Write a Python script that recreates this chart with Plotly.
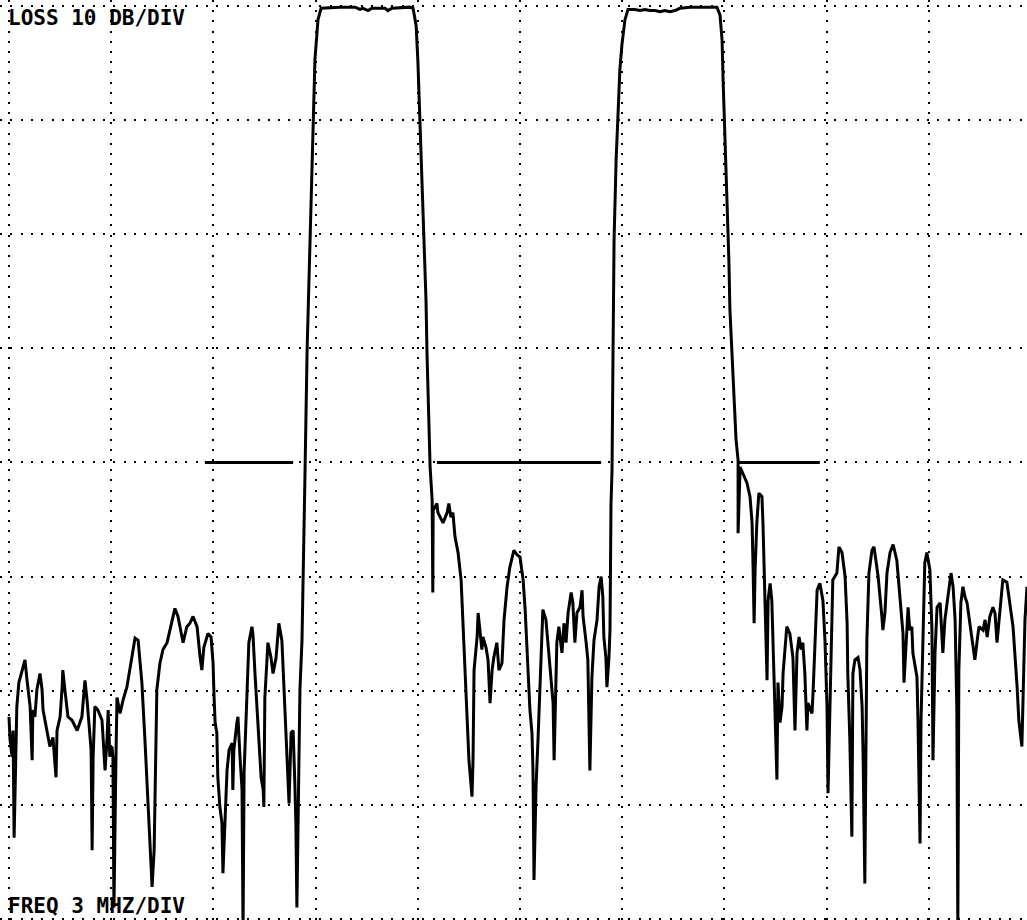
import plotly.graph_objects as go

# Swept transmission loss of a dual-passband filter, 3 MHz/div by 10 dB/div.
# Frequency is measured in MHz from the left edge of the graticule.

# lower stopband and first passband rising edge
f_low = [0.00, 0.03, 0.09, 0.12, 0.15, 0.21, 0.23, 0.29, 0.38, 0.47,
         0.53, 0.62, 0.68, 0.70, 0.76, 0.82, 0.91, 0.97, 1.00, 1.12,
         1.20, 1.29, 1.38, 1.41, 1.50, 1.56, 1.58, 1.64, 1.73, 1.85,
         2.00, 2.14, 2.23, 2.29, 2.35, 2.41, 2.44, 2.47, 2.52, 2.61,
         2.73, 2.82, 2.88, 2.91, 2.96, 3.02, 3.05, 3.08, 3.14, 3.17,
         3.26, 3.35, 3.46, 3.61, 3.70, 3.79, 3.90, 3.99, 4.08, 4.14,
         4.20, 4.26, 4.31, 4.34, 4.43, 4.52, 4.64, 4.78, 4.87, 4.96,
         5.11, 5.22, 5.31, 5.40, 5.52, 5.61, 5.66, 5.72, 5.84, 5.93,
         5.99, 6.02, 6.05, 6.10, 6.13, 6.19, 6.25, 6.28, 6.31, 6.37,
         6.40, 6.46, 6.55, 6.57, 6.60, 6.69, 6.72, 6.78, 6.84, 6.87,
         6.90, 6.99, 7.04, 7.13, 7.16, 7.22, 7.31, 7.40, 7.46, 7.48,
         7.51, 7.57, 7.60, 7.69, 7.75, 7.84, 7.90, 7.92, 8.01, 8.07,
         8.16, 8.22, 8.28, 8.34, 8.39, 8.42, 8.45, 8.48, 8.54, 8.60,
         8.63, 8.69, 8.75, 8.83, 8.92, 8.98, 9.07, 9.16]
db_low = [62.3, 64.3, 65.8, 63.5, 72.9, 66.1, 61.4, 59.3, 58.2, 57.3,
          59.1, 61.4, 66.1, 61.7, 62.3, 59.9, 58.5, 59.9, 61.7, 63.5,
          64.9, 64.1, 67.6, 63.5, 62.3, 59.7, 58.2, 59.9, 62.3, 62.6,
          63.5, 62.3, 59.1, 60.8, 62.8, 65.2, 74.0, 65.8, 61.4, 61.7,
          62.6, 67.0, 64.1, 61.7, 65.8, 64.9, 65.8, 79.0, 65.8, 60.6,
          62.0, 60.8, 59.7, 57.1, 55.4, 55.6, 59.3, 64.3, 70.2, 74.6,
          77.2, 74.0, 65.8, 59.9, 57.6, 56.4, 55.8, 54.1, 52.8, 53.5,
          55.8, 54.4, 54.1, 53.5, 54.4, 57.1, 58.2, 56.2, 55.0, 55.3,
          57.6, 60.6, 62.8, 63.7, 67.6, 70.2, 71.6, 76.0, 73.4, 68.7,
          67.0, 65.2, 64.6, 68.7, 65.2, 62.8, 62.3, 65.8, 68.7, 81.0,
          67.2, 59.9, 55.8, 54.4, 55.0, 58.5, 62.8, 67.6, 68.7, 70.2,
          60.6, 57.1, 55.8, 57.1, 58.5, 57.1, 54.4, 54.1, 55.6, 59.9,
          65.2, 69.9, 63.7, 63.5, 68.1, 71.6, 79.0, 71.6, 59.9, 55.6,
          51.2, 40.7, 30.1, 20.5, 10.0, 4.7, 1.2, 0.2]

# first passband top
f_pass1 = [9.71, 10.16, 10.30, 10.39, 10.54, 10.65, 11.04, 11.12, 11.24, 11.77, 11.86]
db_pass1 = [0.1, 0.1, 0.3, 0.2, 0.4, 0.2, 0.2, 0.4, 0.2, 0.1, 0.2]

# first passband falling edge, middle stopband, second passband rising edge
f_mid = [11.95, 12.00, 12.06, 12.12, 12.18, 12.24, 12.27, 12.33, 12.36, 12.42,
         12.44, 12.45, 12.56, 12.59, 12.74, 12.86, 12.91, 12.97, 13.03, 13.09,
         13.18, 13.27, 13.32, 13.38, 13.44, 13.50, 13.59, 13.62, 13.65, 13.74,
         13.77, 13.82, 13.88, 13.91, 14.00, 14.06, 14.12, 14.18, 14.23, 14.32,
         14.38, 14.47, 14.53, 14.62, 14.70, 14.82, 14.91, 15.00, 15.09, 15.15,
         15.20, 15.23, 15.29, 15.35, 15.38, 15.41, 15.47, 15.53, 15.61, 15.67,
         15.76, 15.82, 15.91, 15.97, 16.00, 16.03, 16.08, 16.14, 16.23, 16.29,
         16.35, 16.41, 16.50, 16.55, 16.61, 16.67, 16.76, 16.82, 16.85, 16.94,
         16.99, 17.05, 17.11, 17.17, 17.26, 17.32, 17.38, 17.43, 17.46, 17.52,
         17.55, 17.61, 17.64, 17.67, 17.70, 17.73, 17.76, 17.82, 17.87, 17.93,
         17.99, 18.08, 18.17]
db_mid = [1.7, 4.7, 10.0, 15.2, 20.5, 25.8, 30.5, 36.3, 40.4, 43.3,
          51.4, 44.2, 43.6, 44.4, 45.3, 44.4, 43.6, 44.8, 44.4, 46.5,
          47.9, 50.3, 53.8, 57.9, 61.1, 66.1, 69.3, 66.1, 58.2, 55.3,
          53.2, 55.0, 56.4, 55.3, 56.2, 57.3, 61.1, 58.2, 57.1, 55.8,
          58.2, 57.6, 53.8, 50.9, 49.2, 47.7, 48.1, 48.3, 50.3, 52.9,
          55.8, 58.2, 61.7, 63.7, 67.0, 76.6, 68.4, 64.1, 58.2, 52.9,
          53.8, 55.8, 58.8, 61.1, 66.1, 61.1, 55.8, 54.4, 56.7, 54.1,
          55.8, 53.2, 51.4, 52.3, 55.8, 53.2, 52.7, 51.2, 53.5, 55.8,
          57.3, 67.0, 58.8, 55.6, 53.8, 50.9, 50.0, 51.8, 55.3, 57.1,
          59.7, 57.1, 54.7, 43.6, 40.7, 30.1, 20.5, 13.5, 9.1, 5.6,
          3.4, 1.2, 0.3]

# second passband top
f_pass2 = [18.37, 18.52, 18.67, 18.81, 18.96, 19.11, 19.25, 19.40, 19.55, 19.69,
           19.99, 20.28, 20.78]
db_pass2 = [0.3, 0.4, 0.3, 0.4, 0.4, 0.5, 0.4, 0.5, 0.4, 0.2,
            0.1, 0.1, 0.1]

# second passband falling edge and upper stopband
f_high = [20.87, 20.93, 20.96, 21.01, 21.07, 21.13, 21.16, 21.22, 21.28, 21.34,
          21.40, 21.40, 21.46, 21.54, 21.66, 21.75, 21.81, 21.84, 21.87, 21.90,
          21.95, 22.01, 22.10, 22.13, 22.19, 22.25, 22.28, 22.34, 22.39, 22.42,
          22.48, 22.54, 22.57, 22.63, 22.69, 22.72, 22.83, 22.92, 23.01, 23.07,
          23.13, 23.19, 23.25, 23.30, 23.36, 23.42, 23.45, 23.57, 23.60, 23.66,
          23.72, 23.80, 23.89, 23.95, 24.01, 24.04, 24.10, 24.16, 24.18, 24.30,
          24.36, 24.45, 24.54, 24.60, 24.62, 24.68, 24.74, 24.77, 24.83, 24.92,
          24.98, 25.04, 25.07, 25.12, 25.15, 25.18, 25.24, 25.33, 25.39, 25.51,
          25.62, 25.65, 25.71, 25.77, 25.86, 25.95, 26.06, 26.15, 26.24, 26.27,
          26.33, 26.39, 26.44, 26.50, 26.53, 26.65, 26.68, 26.74, 26.77, 26.83,
          26.88, 26.94, 27.03, 27.09, 27.12, 27.18, 27.24, 27.33, 27.41, 27.47,
          27.56, 27.65, 27.71, 27.77, 27.82, 27.85, 27.88, 27.94, 28.00, 28.06,
          28.12, 28.21, 28.29, 28.35, 28.41, 28.47, 28.59, 28.65, 28.71, 28.79,
          28.88, 28.94, 29.00, 29.09, 29.17, 29.29, 29.38, 29.47, 29.59, 29.64,
          29.73, 29.76, 29.82, 29.88]
db_high = [0.8, 3.0, 6.5, 10.9, 17.0, 22.3, 26.6, 30.5, 34.5, 38.0,
           39.8, 46.2, 40.4, 40.9, 41.8, 43.0, 45.3, 49.2, 54.1, 49.4,
           45.3, 42.7, 43.0, 45.3, 52.1, 59.1, 52.1, 50.6, 52.1, 55.6,
           60.8, 67.8, 59.3, 62.8, 61.4, 58.5, 54.4, 55.0, 57.1, 63.5,
           56.7, 55.3, 56.4, 55.8, 58.5, 63.5, 61.1, 62.0, 60.2, 55.6,
           51.2, 50.6, 52.1, 55.6, 61.4, 69.0, 61.4, 55.6, 50.3, 49.7,
           47.4, 47.9, 50.0, 54.1, 58.5, 64.3, 72.8, 58.5, 57.3, 57.1,
           58.2, 61.4, 65.8, 76.9, 64.3, 55.6, 49.7, 47.7, 47.4, 50.0,
           53.5, 54.7, 53.2, 49.7, 47.9, 47.2, 48.6, 52.1, 55.0, 59.3,
           55.3, 52.7, 54.7, 54.4, 56.7, 58.8, 62.6, 73.4, 62.6, 53.8,
           48.8, 47.9, 49.4, 54.7, 66.1, 56.7, 52.7, 52.3, 56.7, 53.8,
           51.8, 49.7, 50.9, 53.8, 61.7, 81.0, 58.2, 52.3, 50.9, 51.8,
           52.3, 54.4, 56.4, 57.3, 55.8, 54.4, 54.7, 53.8, 55.3, 53.5,
           52.7, 53.2, 55.8, 53.2, 50.3, 50.5, 52.3, 54.4, 59.7, 62.6,
           64.9, 61.4, 53.8, 50.9]

# stopband rejection limit segments
mask_level_db = 40
mask_start_mhz = [5.75, 12.56, 21.40]
mask_end_mhz = [8.34, 17.38, 23.80]

sections = [(f_low, db_low), (f_pass1, db_pass1), (f_mid, db_mid),
            (f_pass2, db_pass2), (f_high, db_high)]
freq, loss = [], []
for fs, ds in sections:
    assert len(fs) == len(ds), (len(fs), len(ds))
    freq += fs
    loss += ds

mask_x, mask_y = [], []
for s, e in zip(mask_start_mhz, mask_end_mhz):
    mask_x += [s, e, None]
    mask_y += [mask_level_db, mask_level_db, None]

fig = go.Figure()
fig.add_trace(go.Scatter(x=mask_x, y=mask_y, mode="lines",
                         line=dict(color="black", width=3), hoverinfo="skip"))
fig.add_trace(go.Scatter(x=freq, y=loss, mode="lines",
                         line=dict(color="black", width=3, shape="linear"),
                         hoverinfo="skip"))

label_font = dict(family="DejaVu Sans Mono", size=21, color="black")
fig.add_annotation(text="<b>LOSS 10 DB/DIV</b>", xref="paper", yref="paper",
                   x=0, y=1, xanchor="left", yanchor="top", showarrow=False,
                   xshift=6, yshift=-4, font=label_font)
fig.add_annotation(text="<b>FREQ 3 MHZ/DIV</b>", xref="paper", yref="paper",
                   x=0, y=0, xanchor="left", yanchor="bottom", showarrow=False,
                   xshift=6, yshift=0, font=label_font)

fig.update_xaxes(range=[-0.264, 29.88], tick0=0, dtick=3,
                 showgrid=True, gridcolor="black", gridwidth=2, griddash="2px,8.2px",
                 showticklabels=False, ticks="", zeroline=False, showline=False)
fig.update_yaxes(range=[80.105, -0.526], tick0=0, dtick=10,
                 showgrid=True, gridcolor="black", gridwidth=2, griddash="2px,8.3px",
                 showticklabels=False, ticks="", zeroline=False, showline=False)
fig.update_layout(width=1027, height=920, autosize=False,
                  margin=dict(l=0, r=0, t=0, b=0),
                  paper_bgcolor="white", plot_bgcolor="white",
                  showlegend=False)

fig.write_html("out.html", config={"displayModeBar": False})
